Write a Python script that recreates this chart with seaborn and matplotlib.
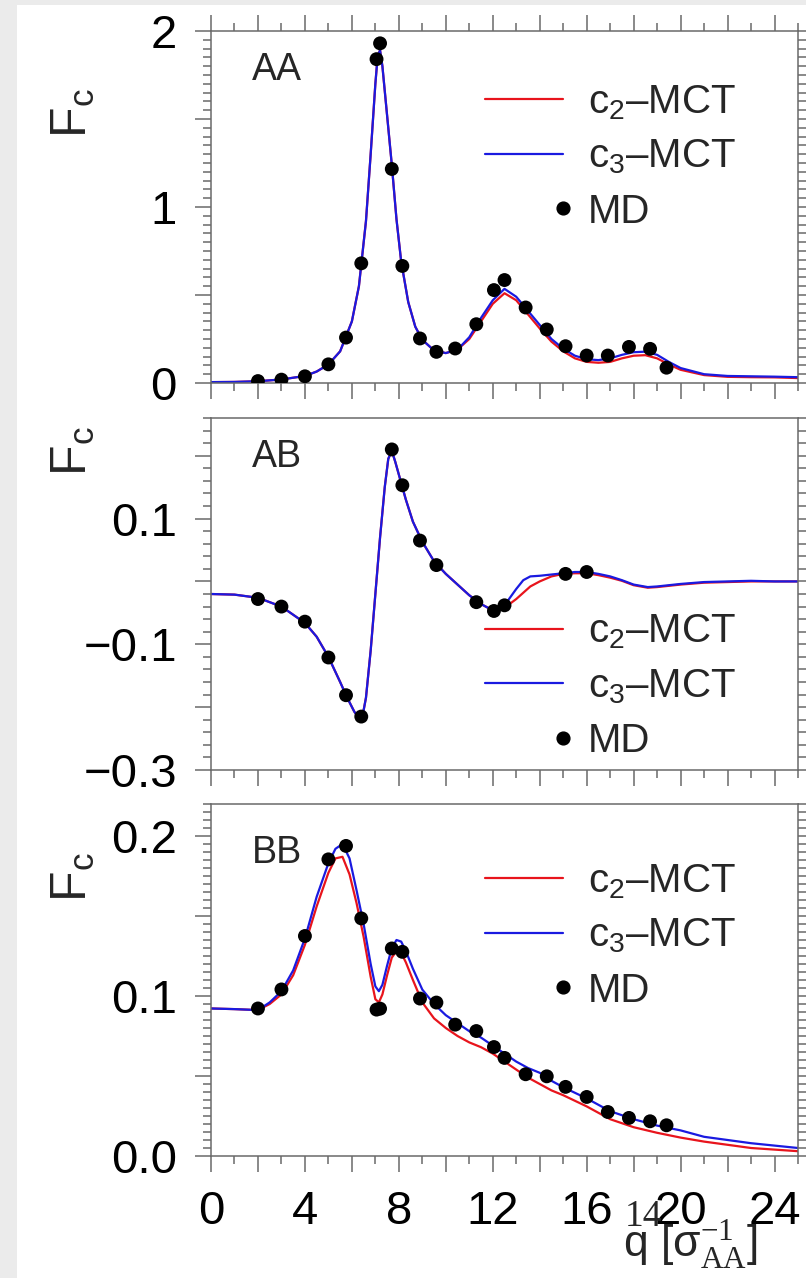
import numpy as np
import pandas as pd
import seaborn as sns
import matplotlib.pyplot as plt
from matplotlib.ticker import MultipleLocator, FuncFormatter
from matplotlib.patches import Rectangle
from matplotlib.lines import Line2D

sns.set_style("ticks")
plt.rcParams['font.family'] = ['Liberation Sans', 'DejaVu Sans']
plt.rcParams['mathtext.fontset'] = 'custom'
plt.rcParams['mathtext.rm'] = 'Liberation Sans'
plt.rcParams['mathtext.sf'] = 'Liberation Serif'
plt.rcParams['mathtext.default'] = 'regular'

# ---- data ----
# AA
q_aa = [0, 1, 2, 3, 4, 4.5, 5, 5.5, 6, 6.3, 6.6, 6.8, 7.0, 7.1, 7.2, 7.3, 7.5, 7.7, 7.9, 8.1,
        8.4, 8.7, 9.0, 9.5, 10.0, 10.5, 11.0, 11.5, 12.0, 12.5, 13.0, 13.5, 14.0, 14.5, 15.0,
        15.5, 16.0, 16.5, 17.0, 17.5, 18.0, 18.5, 19.0, 19.5, 20.0, 21.0, 22.0, 23.0, 24.0, 25.0]
aa_c2 = [0.005, 0.006, 0.01, 0.02, 0.04, 0.065, 0.105, 0.18, 0.35, 0.55, 0.92, 1.30, 1.70, 1.86,
         1.89, 1.80, 1.52, 1.24, 0.93, 0.69, 0.46, 0.32, 0.245, 0.185, 0.17, 0.19, 0.25, 0.35,
         0.45, 0.51, 0.47, 0.39, 0.31, 0.235, 0.18, 0.14, 0.12, 0.115, 0.12, 0.14, 0.155, 0.158,
         0.14, 0.105, 0.075, 0.045, 0.035, 0.033, 0.032, 0.028]
aa_c3 = [0.005, 0.006, 0.01, 0.02, 0.04, 0.065, 0.105, 0.18, 0.35, 0.55, 0.92, 1.30, 1.70, 1.86,
         1.89, 1.80, 1.52, 1.24, 0.93, 0.69, 0.46, 0.32, 0.245, 0.185, 0.17, 0.19, 0.26, 0.37,
         0.47, 0.535, 0.49, 0.41, 0.33, 0.25, 0.195, 0.155, 0.135, 0.13, 0.14, 0.16, 0.175, 0.178,
         0.16, 0.12, 0.085, 0.05, 0.04, 0.038, 0.036, 0.033]
q_md_aa = [2.0, 3.0, 4.0, 5.0, 5.75, 6.4, 7.05, 7.2, 7.7, 8.15, 8.9, 9.6, 10.4, 11.3, 12.05,
           12.5, 13.4, 14.3, 15.1, 16.0, 16.9, 17.8, 18.7, 19.4]
md_aa = [0.011, 0.019, 0.038, 0.106, 0.258, 0.68, 1.84, 1.93, 1.216, 0.665, 0.253, 0.177, 0.196,
         0.334, 0.528, 0.585, 0.429, 0.304, 0.209, 0.156, 0.156, 0.205, 0.194, 0.087]

# AB
q_ab = [0, 1, 2, 3, 4, 4.5, 5, 5.5, 5.8, 6.1, 6.3, 6.45, 6.6, 6.8, 7.0, 7.2, 7.4, 7.55, 7.7,
        7.85, 8.0, 8.3, 8.6, 9.0, 9.5, 10.0, 10.5, 11.0, 11.5, 12.0, 12.5, 13.0, 13.3, 13.6,
        14.0, 14.5, 15.0, 15.5, 16.0, 16.5, 17.0, 17.5, 18.0, 18.6, 19.0, 20.0, 21.0, 22.0,
        23.0, 24.0, 25.0]
ab_c2 = [-0.020, -0.021, -0.026, -0.040, -0.066, -0.088, -0.120, -0.16, -0.185, -0.207, -0.218,
         -0.215, -0.185, -0.11, -0.02, 0.07, 0.15, 0.195, 0.208, 0.19, 0.17, 0.13, 0.095, 0.063,
         0.032, 0.012, -0.005, -0.022, -0.036, -0.046, -0.042, -0.028, -0.018, -0.008, 0.0,
         0.008, 0.012, 0.013, 0.013, 0.01, 0.006, 0.001, -0.006, -0.01, -0.009, -0.005, -0.002,
         -0.001, 0.0, 0.0, 0.0]
ab_c3 = [-0.020, -0.021, -0.026, -0.040, -0.066, -0.088, -0.120, -0.16, -0.185, -0.207, -0.218,
         -0.215, -0.185, -0.11, -0.02, 0.07, 0.15, 0.195, 0.208, 0.19, 0.17, 0.13, 0.095, 0.063,
         0.032, 0.012, -0.005, -0.022, -0.036, -0.046, -0.038, -0.012, 0.002, 0.008, 0.009,
         0.011, 0.013, 0.015, 0.015, 0.012, 0.008, 0.002, -0.005, -0.009, -0.008, -0.004, -0.001,
         0.0, 0.001, 0.0, 0.0]
q_md_ab = [2.0, 3.0, 4.0, 5.0, 5.75, 6.4, 7.7, 8.15, 8.9, 9.6, 11.3, 12.05, 12.5, 15.1, 16.0]
md_ab = [-0.028, -0.040, -0.064, -0.121, -0.181, -0.215, 0.210, 0.153, 0.065, 0.026, -0.033,
         -0.047, -0.038, 0.012, 0.015]

# BB
q_bb = [0, 1, 2, 2.5, 3, 3.5, 4, 4.5, 5, 5.3, 5.6, 5.9, 6.2, 6.5, 6.8, 7.0, 7.15, 7.3, 7.5, 7.7,
        7.9, 8.1, 8.3, 8.6, 9.0, 9.5, 10.0, 10.5, 11.0, 11.5, 12.0, 12.5, 13.0, 13.5, 14.0, 14.5,
        15.0, 16.0, 17.0, 18.0, 19.0, 20.0, 21.0, 22.0, 23.0, 24.0, 25.0]
bb_c2 = [0.0922, 0.0918, 0.0912, 0.095, 0.101, 0.113, 0.132, 0.156, 0.177, 0.186, 0.187, 0.176,
         0.158, 0.137, 0.112, 0.098, 0.096, 0.101, 0.113, 0.124, 0.128, 0.127, 0.121, 0.110,
         0.096, 0.086, 0.080, 0.075, 0.071, 0.068, 0.064, 0.059, 0.054, 0.049, 0.045, 0.041,
         0.038, 0.031, 0.023, 0.018, 0.0145, 0.0115, 0.009, 0.007, 0.005, 0.004, 0.003]
bb_c3 = [0.0922, 0.0918, 0.0912, 0.096, 0.103, 0.116, 0.136, 0.162, 0.183, 0.192, 0.195, 0.186,
         0.166, 0.145, 0.120, 0.106, 0.103, 0.107, 0.119, 0.130, 0.135, 0.134, 0.128, 0.117,
         0.104, 0.095, 0.088, 0.083, 0.078, 0.074, 0.069, 0.064, 0.059, 0.055, 0.052, 0.047,
         0.043, 0.036, 0.028, 0.023, 0.019, 0.016, 0.012, 0.010, 0.008, 0.0065, 0.005]
q_md_bb = q_md_aa
md_bb = [0.0922, 0.1041, 0.1375, 0.1854, 0.1938, 0.1485, 0.0915, 0.0921, 0.1297, 0.1276, 0.0984,
         0.0959, 0.0821, 0.0781, 0.0681, 0.0613, 0.0511, 0.0498, 0.0432, 0.0369, 0.0275, 0.0238,
         0.0217, 0.0192]

panel_names = ["AA", "AB", "BB"]
x_ticklabels = [0, 4, 8, 12, 16, 20, 24]

RED = '#e8141c'
BLUE = '#1a1ae0'
AXC = '#6a6a6a'
W, H = 806, 1278

fig = plt.figure(figsize=(W / 100, H / 100), dpi=100)
fig.patch.set_facecolor('#ebebeb')
fig.add_artist(Rectangle((17 / W, 0), 1, 1 - 5 / H, transform=fig.transFigure,
                         facecolor='white', edgecolor='none', zorder=-5))

setup = [
    # curves, md, ylim, major, minor, labelled ticks, fmt, legend top, panel bottom px, F_c y px, name y
    (q_aa, aa_c2, aa_c3, q_md_aa, md_aa, (0, 2), 0.5, 0.05, [0, 1, 2], '{:.0f}', 0.852, 383, 113, 0.861),
    (q_ab, ab_c2, ab_c3, q_md_ab, md_ab, (-0.3, 0.26), 0.1, 0.02, [0.1, -0.1, -0.3], '{:.1f}', 0.447, 770, 451, 0.861),
    (q_bb, bb_c2, bb_c3, q_md_bb, md_bb, (0, 0.22), 0.05, 0.005, [0.0, 0.1, 0.2], '{:.1f}', 0.835, 1156, 877, 0.832),
]

left = 211 / W
width = (798 - 211) / W
ph = 352 / H

for i, (q, c2, c3, qm, md, ylim, maj, mnr, labs, fmt, legtop, pbot, fcy, namey) in enumerate(setup):
    ax = fig.add_axes([left, 1 - pbot / H, width, ph])
    ax.set_facecolor('none')
    sns.lineplot(x=q, y=c2, ax=ax, color=RED, lw=1.6, label='c$_{2}$\u2013MCT', legend=False)
    sns.lineplot(x=q, y=c3, ax=ax, color=BLUE, lw=1.6, label='c$_{3}$\u2013MCT', legend=False)
    sns.scatterplot(x=qm, y=md, ax=ax, color='black', s=100, edgecolor='none', zorder=5, legend=False)

    ax.set_xlim(0, 25)
    ax.set_ylim(*ylim)
    ax.xaxis.set_major_locator(MultipleLocator(2))
    ax.xaxis.set_minor_locator(MultipleLocator(1))
    ax.yaxis.set_major_locator(MultipleLocator(maj))
    ax.yaxis.set_minor_locator(MultipleLocator(mnr))
    ax.yaxis.set_major_formatter(FuncFormatter(
        lambda v, p, labs=labs, fmt=fmt: fmt.format(v).replace('-', '\u2212')
        if any(abs(v - l) < 1e-6 for l in labs) else ''))
    ax.xaxis.set_major_formatter(FuncFormatter(
        lambda v, p: f'{v:.0f}' if any(abs(v - l) < 1e-6 for l in x_ticklabels) else ''))

    for sp in ax.spines.values():
        sp.set_color(AXC)
        sp.set_linewidth(1.1)
    ax.tick_params(which='both', direction='out', color=AXC, width=1.1,
                   labelsize=34, labelcolor='black', top=(i == 0), right=True,
                   bottom=True, left=True, labelbottom=(i == 2))
    ax.tick_params(which='major', length=11.5)
    ax.tick_params(which='minor', length=5.8)
    ax.tick_params(axis='y', pad=13)
    ax.tick_params(axis='x', pad=13)
    ax.set_xlabel('')
    ax.set_ylabel('')

    ax.text(0.07, namey, panel_names[i], transform=ax.transAxes, fontsize=27,
            va='baseline', ha='left')
    fig.text(73 / W, 1 - fcy / H, 'F$_{c}$', rotation=90, fontsize=36,
             ha='center', va='center')

    h, l = ax.get_legend_handles_labels()
    md_handle = Line2D([], [], ls='none', marker='o', color='black', markersize=9.2)
    leg = ax.legend(h[:2] + [md_handle], l[:2] + ['MD'], loc='upper left',
                    bbox_to_anchor=(0.4668, legtop), frameon=False, fontsize=29,
                    handlelength=1.94, handletextpad=0.62, labelspacing=0.4,
                    borderpad=0, borderaxespad=0, numpoints=1)
    leg.legend_handles[2].set_markevery([2])

fig.text(623 / W, 1 - 1257 / H, r'q [$\sigma_{\mathsf{AA}}^{\mathsf{-1}}$]', fontsize=32,
         ha='left', va='baseline')
fig.text(643 / W, 1 - 1217 / H, '14', family='Liberation Serif', fontsize=27,
         ha='center', va='center', zorder=10)

fig.savefig('out.png', dpi=100, facecolor=fig.get_facecolor())
